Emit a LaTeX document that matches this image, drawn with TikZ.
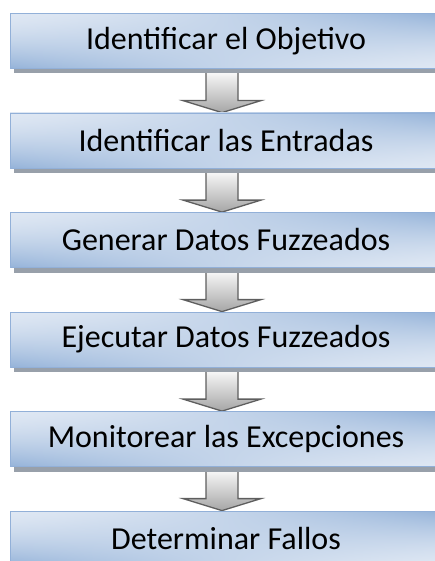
\documentclass[tikz,border=0pt]{standalone}
\usepackage{fontspec}
\setmainfont{Carlito}
\usepackage{xcolor}
\usepackage{tikz}
\usetikzlibrary{calc, shadows, backgrounds}

\definecolor{boxedge}{HTML}{92B0D8}
\definecolor{shadowgray}{HTML}{98A0AA}
\definecolor{arrowedge}{HTML}{5E5E5E}

% light #DEE7F3 in the middle, blue #95B3D9 bottom left and top right
\pgfdeclarefunctionalshading{boxshade}{\pgfpointorigin}{\pgfpoint{100bp}{100bp}}{}{
  25 sub 50 div exch 25 sub 50 div exch
  2 copy mul 2 mul 3 1 roll add sub 1 add
  dup 0 lt {pop 0} if dup 1 gt {pop 1} if
  dup sqrt mul
  dup dup
  -0.287 mul 0.871 add 3 1 roll
  -0.204 mul 0.906 add exch
  -0.102 mul 0.953 add
}

\tikzset{
  stepbox/.style={rectangle, minimum width=432pt, minimum height=55pt, inner sep=0pt,
    shading=boxshade, draw=boxedge, line width=0.8pt,
    drop shadow={shadow xshift=4pt, shadow yshift=-5pt, fill=shadowgray, opacity=1},
    font=\fontsize{32}{36}\selectfont, text=black},
  downarrow/.style={top color=white, bottom color=gray!70, draw=arrowedge, line width=1.3pt, line join=miter}
}

\begin{document}
\begin{tikzpicture}[x=1pt, y=-1pt]
		\useasboundingbox (0,0) rectangle (435,561);
		\clip (0,0) rectangle (435,561);

		% Steps
		\node[stepbox] (ident) at (226,41) {Identificar el Objetivo};
		\node[stepbox] (inputs) at (226,140.5) {Identificar las Entradas};
		\node[stepbox] (gen) at (226,240) {Generar Datos Fuzzeados};
		\node[stepbox] (exec) at (226,339.5) {Ejecutar Datos Fuzzeados};
		\node[stepbox] (mon) at (226,439) {Monitorear las Excepciones};
		\node[stepbox] (fails) at (226,538.5) {Determinar Fallos};

		% Arrows between the steps
		\begin{pgfonlayer}{background}
		\foreach \a/\b in {ident/inputs, inputs/gen, gen/exec, exec/mon, mon/fails}
			\draw[downarrow] ($(\a.south)+(-20,0)$) -- ($(\b.north)+(-20,-12)$)
				-- ($(\b.north)+(-43,-12)$) -- ($(\b.north)+(-4,0)$)
				-- ($(\b.north)+(35,-12)$) -- ($(\b.north)+(12,-12)$)
				-- ($(\a.south)+(12,0)$) -- cycle;
		\end{pgfonlayer}
	\end{tikzpicture}
\end{document}
